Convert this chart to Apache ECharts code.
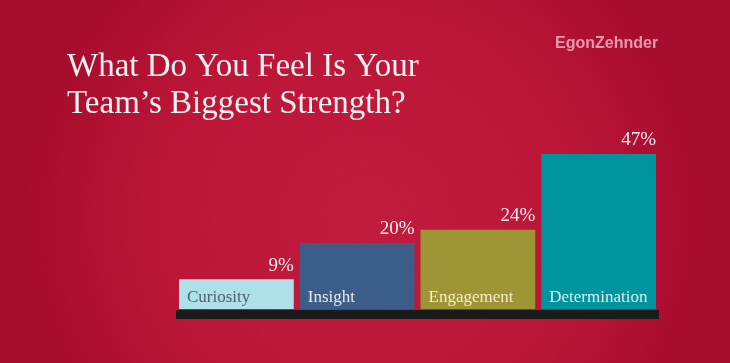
<!DOCTYPE html>
<html>
<head>
<meta charset="utf-8">
<script src="https://cdn.jsdelivr.net/npm/echarts@6/dist/echarts.min.js"></script>
<style>html,body{margin:0;padding:0;}#c{width:730px;height:363px;}</style>
</head>
<body>
<div id="c"></div>
<script>
var categories = ['Curiosity', 'Insight', 'Engagement', 'Determination'];
var values = [9, 20, 24, 47];
var barColors = ['#aee0ea', '#3b5d88', '#9e9636', '#00949f'];
var nameColors = ['#4e5f6e', '#e6e9ef', '#f2eccc', '#d9eef0'];
var titleLines = ['What Do You Feel Is Your', 'Team\u2019s Biggest Strength?'];
var logoText = 'EgonZehnder';

var chart = echarts.init(document.getElementById('c'), null, {renderer: 'canvas'});
var serif = '"Liberation Serif", "DejaVu Serif", serif';
chart.setOption({
  backgroundColor: {
    type: 'radial', x: 0.5, y: 0.6, r: 0.95,
    colorStops: [
      {offset: 0, color: '#c11b3d'},
      {offset: 0.6, color: '#bb1638'},
      {offset: 1, color: '#a60c2d'}
    ]
  },
  title: [{
    text: titleLines.join('\n'),
    left: 62, top: 44,
    textStyle: {color: '#f7f1f1', fontFamily: serif, fontSize: 33, fontWeight: 'normal', lineHeight: 37}
  }, {
    text: logoText,
    left: 550, top: 31,
    textStyle: {color: 'rgba(255,210,222,0.7)', fontFamily: '"Liberation Sans", Arial, sans-serif', fontSize: 16, fontWeight: 'bold'}
  }],
  grid: {left: 176, right: 71, top: 144, bottom: 54},
  xAxis: {
    type: 'category', data: categories,
    offset: 5,
    axisLine: {show: true, onZero: false, lineStyle: {color: '#1b1b1b', width: 9, cap: 'butt'}},
    axisTick: {show: false}, axisLabel: {show: false}
  },
  yAxis: {type: 'value', min: 0, max: 50, show: false, splitLine: {show: false}},
  series: [{
    type: 'bar',
    barCategoryGap: '5%',
    barGap: '-100%',
    data: values.map(function (v, i) { return {value: v, itemStyle: {color: barColors[i]}}; }),
    label: {
      show: true,
      position: ['100%', -4],
      align: 'right', verticalAlign: 'bottom',
      formatter: '{c}%',
      color: '#f8eef0', fontFamily: serif, fontSize: 19
    },
    z: 2
  }, {
    type: 'bar',
    barCategoryGap: '5%',
    barGap: '-100%',
    data: values.map(function (v, i) {
      return {value: v, itemStyle: {color: 'rgba(0,0,0,0)'}, label: {color: nameColors[i]}};
    }),
    label: {
      show: true,
      position: 'insideBottomLeft',
      distance: 8,
      offset: [0, 5],
      formatter: '{b}',
      fontFamily: serif, fontSize: 17
    },
    silent: true,
    z: 3
  }]
});
</script>
</body>
</html>
